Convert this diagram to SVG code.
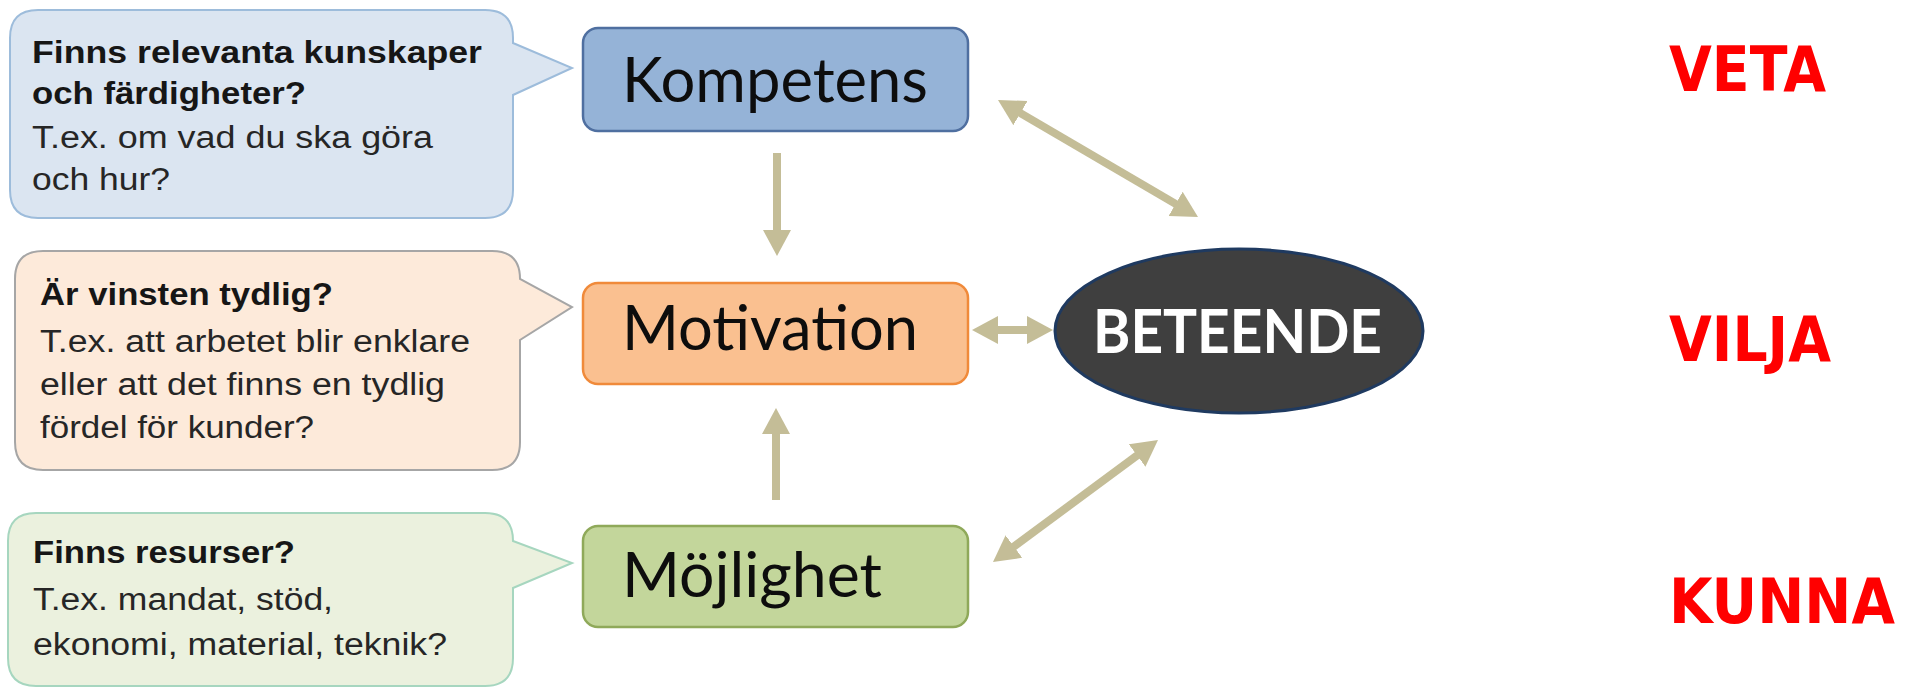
<svg xmlns="http://www.w3.org/2000/svg" width="1908" height="687" viewBox="0 0 1908 687">
<style>
.cb{font-family:"Liberation Sans",Arial,sans-serif;font-size:31px;font-weight:bold;fill:#161616}
.cr{font-family:"Liberation Sans",Arial,sans-serif;font-size:31px;fill:#262626}
.bx{font-family:Lato,"Open Sans",sans-serif;font-size:62px;fill:#0d0d0d}
.lbl{font-family:"DejaVu Sans",Verdana,sans-serif;font-size:57px;font-weight:bold;fill:#FF0000}
.conn{stroke:#C4BD97;stroke-width:8;fill:none}
</style>
<defs>
<marker id="ah" viewBox="0 0 26 28" refX="2" refY="14" markerWidth="26" markerHeight="28" markerUnits="userSpaceOnUse" orient="auto-start-reverse">
<path d="M0,0 L26,14 L0,28 Z" fill="#C4BD97"/>
</marker>
</defs>
<rect width="1908" height="687" fill="#FFFFFF"/>

<g id="callout-kompetens">
<path d="M38,10 H485 Q513,10 513,38 V43 L572,68 L513,95 V190 Q513,218 485,218 H38 Q10,218 10,190 V38 Q10,10 38,10 Z" fill="#DBE5F1" stroke="#9DBCDB" stroke-width="2"/>
<text class="cb" x="32" y="63" textLength="450" lengthAdjust="spacingAndGlyphs">Finns relevanta kunskaper</text>
<text class="cb" x="32" y="104" textLength="274" lengthAdjust="spacingAndGlyphs">och färdigheter?</text>
<text class="cr" x="32" y="148" textLength="401" lengthAdjust="spacingAndGlyphs">T.ex. om vad du ska göra</text>
<text class="cr" x="32" y="190" textLength="138" lengthAdjust="spacingAndGlyphs">och hur?</text>
</g>

<g id="callout-motivation">
<path d="M43,251 H492 Q520,251 520,279 V279 L572,307 L520,340 V442 Q520,470 492,470 H43 Q15,470 15,442 V279 Q15,251 43,251 Z" fill="#FDEADA" stroke="#A6A6A6" stroke-width="2"/>
<text class="cb" x="40" y="305" textLength="293" lengthAdjust="spacingAndGlyphs">Är vinsten tydlig?</text>
<text class="cr" x="40" y="352" textLength="430" lengthAdjust="spacingAndGlyphs">T.ex. att arbetet blir enklare</text>
<text class="cr" x="40" y="395" textLength="405" lengthAdjust="spacingAndGlyphs">eller att det finns en tydlig</text>
<text class="cr" x="40" y="438" textLength="274" lengthAdjust="spacingAndGlyphs">fördel för kunder?</text>
</g>

<g id="callout-mojlighet">
<path d="M36,513 H485 Q513,513 513,541 V541 L572,563 L513,588 V658 Q513,686 485,686 H36 Q8,686 8,658 V541 Q8,513 36,513 Z" fill="#EBF1DE" stroke="#A6D6BF" stroke-width="2"/>
<text class="cb" x="33" y="563" textLength="262" lengthAdjust="spacingAndGlyphs">Finns resurser?</text>
<text class="cr" x="33" y="610" textLength="300" lengthAdjust="spacingAndGlyphs">T.ex. mandat, stöd,</text>
<text class="cr" x="33" y="655" textLength="414" lengthAdjust="spacingAndGlyphs">ekonomi, material, teknik?</text>
</g>

<g id="connectors">
<line class="conn" x1="777" y1="153" x2="777" y2="232" marker-end="url(#ah)"/>
<line class="conn" x1="776" y1="500" x2="776" y2="432" marker-end="url(#ah)"/>
<line class="conn" x1="996" y1="330" x2="1029" y2="330" marker-start="url(#ah)" marker-end="url(#ah)"/>
<line class="conn" x1="1018.7" y1="112.1" x2="1177.3" y2="204.9" marker-start="url(#ah)" marker-end="url(#ah)"/>
<line class="conn" x1="1012.3" y1="547.7" x2="1138.7" y2="454.3" marker-start="url(#ah)" marker-end="url(#ah)"/>
</g>

<g id="node-kompetens">
<rect x="583" y="28" width="385" height="103" rx="15" fill="#95B3D7" stroke="#4F6FA0" stroke-width="2.5"/>
<text class="bx" x="622" y="102" textLength="306" lengthAdjust="spacingAndGlyphs">Kompetens</text>
</g>

<g id="node-motivation">
<rect x="583" y="283" width="385" height="101" rx="15" fill="#FAC090" stroke="#F08A3A" stroke-width="2.5"/>
<text class="bx" x="622" y="350" textLength="296" lengthAdjust="spacingAndGlyphs">Motivation</text>
</g>

<g id="node-mojlighet">
<rect x="583" y="526" width="385" height="101" rx="15" fill="#C3D69B" stroke="#8FA95A" stroke-width="2.5"/>
<text class="bx" x="622" y="597" textLength="260" lengthAdjust="spacingAndGlyphs">Möjlighet</text>
</g>

<g id="node-beteende">
<ellipse cx="1239" cy="331" rx="184" ry="82" fill="#3F3F3F" stroke="#1F3A60" stroke-width="3"/>
<text x="1093" y="353" textLength="289" lengthAdjust="spacingAndGlyphs" font-family="Lato,'Open Sans',sans-serif" font-size="62" font-weight="bold" fill="#FFFFFF">BETEENDE</text>
</g>

<g id="labels">
<text class="lbl" transform="translate(1669,91) scale(1,1.09)" textLength="157" lengthAdjust="spacingAndGlyphs">VETA</text>
<text class="lbl" transform="translate(1669,361) scale(1,1.09)" textLength="162" lengthAdjust="spacingAndGlyphs">VILJA</text>
<text class="lbl" transform="translate(1669,623) scale(1,1.09)" textLength="226" lengthAdjust="spacingAndGlyphs">KUNNA</text>
</g>
</svg>
